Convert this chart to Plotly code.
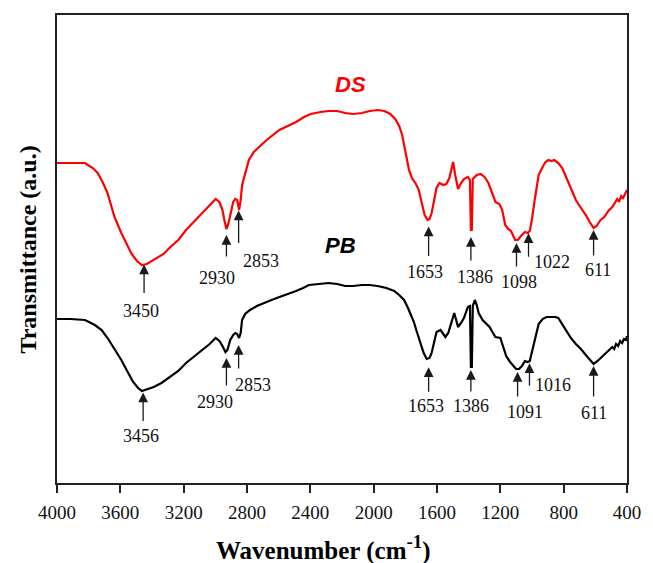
import numpy as np
import plotly.graph_objects as go

# FTIR spectra (transmittance, arbitrary units) vs wavenumber in cm-1
wn_ds = [4000, 3916, 3823, 3805, 3774, 3743, 3712, 3681, 3637, 3594, 3532, 3495, 3464, 3433,
         3389, 3327, 3284, 3234, 3185, 3129, 3079, 3036, 2998, 2974, 2955, 2943, 2930, 2918,
         2906, 2887, 2874, 2862, 2850, 2840, 2831, 2812, 2788, 2757, 2719, 2676, 2595, 2540,
         2490, 2440, 2397, 2335, 2285, 2230, 2180, 2130, 2074, 2025, 1975, 1932, 1895, 1864,
         1839, 1820, 1802, 1789, 1777, 1758, 1733, 1715, 1696, 1678, 1659, 1647, 1634, 1622,
         1603, 1585, 1560, 1541, 1522, 1510, 1498, 1485, 1467, 1448, 1430, 1405, 1392, 1386,
         1380, 1374, 1349, 1324, 1300, 1275, 1250, 1231, 1206, 1188, 1169, 1151, 1132, 1107,
         1089, 1070, 1045, 1027, 1014, 1002, 983, 958, 933, 915, 896, 877, 859, 834, 809, 785,
         754, 723, 691, 660, 636, 611, 592, 567, 543, 518, 493, 474, 462, 450, 437, 425, 412, 400]
t_ds = [320, 320, 320, 318, 315, 310, 301, 290, 266, 250, 230, 222, 218, 219,
        223, 229, 236, 243, 253, 262, 270, 277, 284, 281, 273, 263, 254, 259,
        269, 281, 284, 283, 273, 283, 298, 310, 323, 331, 337, 343, 353, 357,
        361, 366, 369, 371, 372, 372, 370, 369, 370, 372, 373, 372, 369, 364,
        357, 348, 335, 323, 313, 305, 299, 293, 280, 268, 263, 264, 270, 280,
        295, 300, 298, 299, 305, 313, 321, 308, 294, 300, 304, 306, 303, 253,
        253, 304, 308, 309, 306, 300, 290, 281, 279, 273, 258, 254, 252, 243,
        243, 247, 251, 250, 252, 262, 283, 308, 316, 321, 323, 322, 323, 320, 315, 306,
        295, 283, 275, 268, 261, 255, 257, 263, 266, 272, 276, 281, 284, 281, 287, 285, 290, 293]

wn_pb = [4000, 3916, 3823, 3761, 3718, 3681, 3637, 3594, 3557, 3519, 3488, 3464, 3426, 3389,
         3340, 3284, 3234, 3185, 3129, 3079, 3036, 2998, 2974, 2955, 2936, 2924, 2906, 2887,
         2874, 2862, 2850, 2840, 2831, 2812, 2781, 2738, 2695, 2645, 2595, 2540, 2490, 2446,
         2409, 2347, 2285, 2230, 2180, 2130, 2074, 2025, 1975, 1920, 1870, 1839, 1808, 1783,
         1764, 1746, 1727, 1702, 1684, 1665, 1647, 1634, 1616, 1603, 1578, 1547, 1529, 1516,
         1504, 1491, 1479, 1467, 1448, 1430, 1405, 1392, 1386, 1380, 1374, 1361, 1349, 1337,
         1312, 1287, 1268, 1250, 1231, 1200, 1182, 1163, 1138, 1120, 1101, 1082, 1064, 1045,
         1027, 1014, 1002, 983, 958, 933, 908, 877, 853, 834, 809, 785, 754, 723, 691, 660,
         636, 611, 586, 561, 536, 512, 493, 481, 469, 456, 443, 431, 419, 406, 400]
t_pb = [164, 164, 163, 158, 153, 145, 134, 123, 112, 101, 95, 92, 94, 96,
        100, 106, 112, 120, 127, 133, 139, 145, 142, 137, 131, 133, 143, 148,
        150, 149, 145, 150, 163, 169, 173, 177, 180, 183, 186, 189, 192, 195,
        198, 199, 200, 199, 197, 197, 198, 198, 197, 195, 192, 188, 183, 175,
        168, 161, 151, 138, 130, 124, 125, 130, 143, 151, 153, 146, 150, 157,
        165, 170, 163, 156, 160, 165, 176, 177, 116, 116, 177, 183, 178, 170,
        163, 159, 156, 151, 146, 145, 136, 127, 121, 117, 114, 114, 117, 122,
        121, 122, 130, 145, 159, 164, 166, 166, 166, 165, 159, 152, 145, 139, 134, 128,
        123, 119, 122, 126, 129, 133, 136, 134, 139, 137, 142, 140, 144, 143, 147]

# assigned band positions (cm-1)
ds_peaks = [3450, 2930, 2853, 1653, 1386, 1098, 1022, 611]
pb_peaks = [3456, 2930, 2853, 1653, 1386, 1091, 1016, 611]

x_ticks = [4000, 3600, 3200, 2800, 2400, 2000, 1600, 1200, 800, 400]

# per-band marker layout in pixels: (gap below band, arrow tail offset, label dx, label dy)
ds_layout = [(0, 30, -3, 46), (6, 29, -9, 49), (3, 37, 22, 53), (7, 38, -4, 52),
             (7, 32, 4, 47), (3, 28, 3, 42), (1, 26, 23, 30), (2, 29, 4, 42)]
pb_layout = [(2, 32, -2, 45), (7, 36, -11, 51), (8, 33, 14, 48), (9, 35, -3, 48),
             (3, 26, 0, 39), (3, 29, 7, 43), (2, 26, 24, 24), (2, 34, 0, 49)]

SERIF = "Liberation Serif, Times New Roman, serif"
SANS = "Liberation Sans, Arial, sans-serif"

# plot frame in pixels
L, R, T, B = 57, 16, 15, 80
W, H = 653, 563
PW, PH = W - L - R, H - T - B


def px(x_pix, y_pix):
    """paper coordinates of a pixel position"""
    return (x_pix - L) / PW, (H - B - y_pix) / PH


fig = go.Figure()
fig.add_trace(go.Scatter(x=wn_ds, y=t_ds, mode="lines", name="DS",
                         line=dict(color="#ff0000", width=2.2), showlegend=False))
fig.add_trace(go.Scatter(x=wn_pb, y=t_pb, mode="lines", name="PB",
                         line=dict(color="#000000", width=2.2), showlegend=False))

annotations = []


def band_marks(wn, tr, peaks, lay):
    xs = np.array(wn[::-1], dtype=float)
    ys = np.array(tr[::-1], dtype=float)
    for p, (gap, tail, dx, dy) in zip(peaks, lay):
        yv = float(np.interp(p, xs, ys))
        annotations.append(dict(
            x=p, y=yv, xref="x", yref="y", text="", showarrow=True,
            ax=0, ay=tail, axref="pixel", ayref="pixel", standoff=gap,
            arrowhead=2, arrowsize=1.5, arrowwidth=1.3, arrowcolor="#1a1a1a"))
        annotations.append(dict(
            x=p, y=yv, xref="x", yref="y", text=str(p), showarrow=False,
            xanchor="center", yanchor="middle",
            xshift=dx, yshift=-dy, font=dict(family=SERIF, size=18, color="#111")))


band_marks(wn_ds, t_ds, ds_peaks, ds_layout)
band_marks(wn_pb, t_pb, pb_peaks, pb_layout)


def paper_text(x_pix, y_pix, text, font, angle=0):
    xp, yp = px(x_pix, y_pix)
    annotations.append(dict(x=xp, y=yp, xref="paper", yref="paper", text=text,
                            showarrow=False, xanchor="center", yanchor="middle",
                            textangle=angle, font=font))


# sample names
paper_text(356, 84, "<b><i>DS</i></b>", dict(family=SANS, size=22, color="#ff0000"))
paper_text(345, 245, "<b><i>PB</i></b>", dict(family=SANS, size=22, color="#000000"))

# axis titles
paper_text(328, 548,
           "<b>Wavenumber (cm<sup><span style='font-size:19px'>-1</span></sup>)</b>",
           dict(family=SERIF, size=25, color="#000"))
paper_text(27, 250, "<b>Transmittance (a.u.)</b>",
           dict(family=SERIF, size=24, color="#000"), angle=-90)

fig.update_layout(
    width=W, height=H,
    margin=dict(l=L, r=R, t=T, b=B),
    paper_bgcolor="white", plot_bgcolor="white",
    annotations=annotations,
    xaxis=dict(range=[4000, 400], tickvals=x_ticks, ticktext=[str(v) for v in x_ticks],
               ticks="outside", ticklen=8, tickwidth=2, tickcolor="#222",
               ticklabelstandoff=3,
               showline=True, linecolor="#222", linewidth=2, mirror=True,
               showgrid=False, zeroline=False,
               tickfont=dict(family=SERIF, size=19, color="#111")),
    yaxis=dict(range=[0, 468], showticklabels=False, ticks="",
               showline=True, linecolor="#222", linewidth=2, mirror=True,
               showgrid=False, zeroline=False),
)

fig.write_html("out.html")
